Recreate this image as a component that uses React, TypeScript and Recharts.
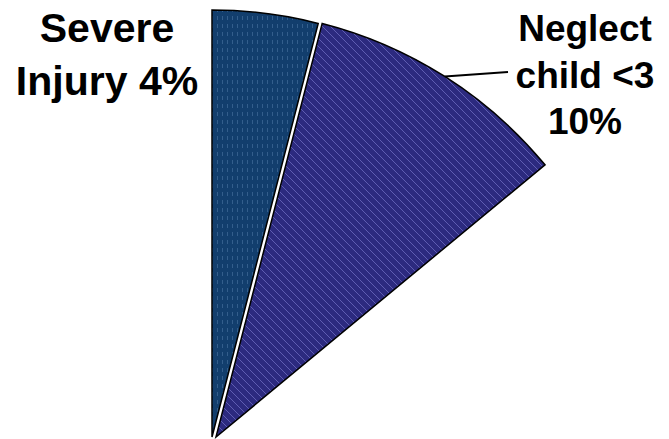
import { PieChart, Pie, Cell } from 'recharts'

// slices, clockwise from 12 o'clock; the remainder of the pie is not drawn
const names = ['Severe Injury', 'Neglect child <3', 'Other']
const values = [4, 10, 86]
const labelRows = [['Severe', 'Injury {p}'], ['Neglect', 'child <3', '{p}'], []]

const SEVERE_FILL = 'url(#severeHatch)'
const NEGLECT_FILL = 'url(#neglectHatch)'

const data = names.map((name, i) => ({ name, value: values[i] }))

// where each label block sits
const labelPos = [
  { x: 107, y: 42, step: 53, size: 41, lineTo: null as null | [number, number] },
  { x: 585, y: 41, step: 46.5, size: 37, lineTo: [508, 72] as [number, number] },
]

const RAD = Math.PI / 180

function makeLabel(show: number) {
  return (p: any) => {
    if (p.index !== show) return null
    const pos = labelPos[show]
    const pct = `${Math.round(p.percent * 100)}%`
    const rows = labelRows[show].map((r) => r.replace('{p}', pct))
    let line = null
    if (pos.lineTo) {
      const sx = p.cx + p.outerRadius * Math.cos(-p.midAngle * RAD)
      const sy = p.cy + p.outerRadius * Math.sin(-p.midAngle * RAD)
      line = <path d={`M${sx},${sy}L${pos.lineTo[0]},${pos.lineTo[1]}`} stroke="#000" strokeWidth={2} fill="none" />
    }
    return (
      <g key={`lbl-${show}`}>
        {line}
        <text textAnchor="middle" fontFamily="'Liberation Sans', Arial, sans-serif" fontWeight="bold" fontSize={pos.size} fill="#000">
          {rows.map((r, i) => (
            <tspan key={i} x={pos.x} y={pos.y + i * pos.step}>{r}</tspan>
          ))}
        </text>
      </g>
    )
  }
}

export default function App() {
  return (
    <div style={{ position: 'absolute', left: 0, top: 0, width: 669, height: 439, background: '#fff' }}>
      <PieChart width={669} height={439} margin={{ top: 0, right: 0, bottom: 0, left: 0 }}>
        <defs>
          <pattern id="severeHatch" patternUnits="userSpaceOnUse" width="5" height="8">
            <rect width="5" height="8" fill="#123e6d" />
            <line x1="2.5" y1="0" x2="2.5" y2="4" stroke="#335e8c" strokeWidth="1" />
          </pattern>
          <pattern id="neglectHatch" patternUnits="userSpaceOnUse" width="8" height="8">
            <rect width="8" height="8" fill="#2c2a7f" />
            <path d="M0,0L8,8M-1,7L1,9M7,-1L9,1" stroke="#5f5db2" strokeWidth="1" />
          </pattern>
        </defs>
        <Pie
          data={data}
          dataKey="value"
          nameKey="name"
          cx={212}
          cy={437}
          outerRadius={427}
          startAngle={90}
          endAngle={-270}
          isAnimationActive={false}
          label={makeLabel(0)}
          labelLine={false}
        >
          {data.map((d, i) => (
            <Cell key={d.name} fill={i === 0 ? SEVERE_FILL : 'none'} stroke={i === 0 ? '#000' : 'none'} strokeWidth={1.5} />
          ))}
        </Pie>
        <Pie
          data={data}
          dataKey="value"
          nameKey="name"
          cx={216}
          cy={437}
          outerRadius={427}
          startAngle={90}
          endAngle={-270}
          isAnimationActive={false}
          label={makeLabel(1)}
          labelLine={false}
        >
          {data.map((d, i) => (
            <Cell key={d.name} fill={i === 1 ? NEGLECT_FILL : 'none'} stroke={i === 1 ? '#000' : 'none'} strokeWidth={1.5} />
          ))}
        </Pie>
      </PieChart>
    </div>
  )
}
